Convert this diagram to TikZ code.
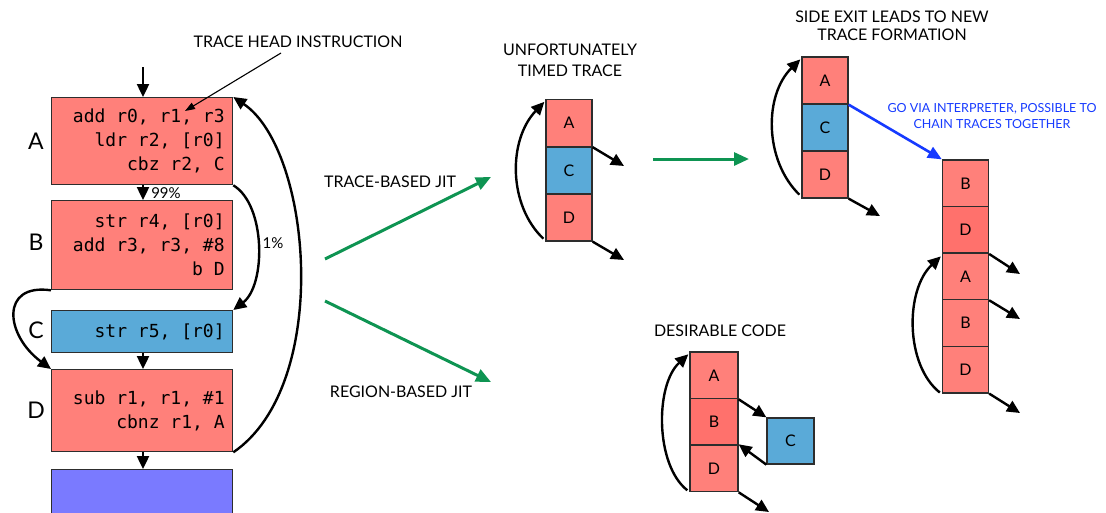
\documentclass[tikz,border=0pt]{standalone}
\usepackage{fontspec}
\setmainfont{Lato}
\newfontfamily\codefam{DejaVu Sans Mono}
\usetikzlibrary{arrows.meta}
\definecolor{blockred}{RGB}{255,128,122}
\definecolor{blockreddk}{RGB}{255,113,108}
\definecolor{blockcyan}{RGB}{90,170,216}
\definecolor{blockviolet}{RGB}{122,122,255}
\definecolor{jitgreen}{RGB}{14,148,82}
\definecolor{chainblue}{RGB}{22,58,255}
\definecolor{edgegray}{RGB}{45,45,45}
% one full character cell of the monospaced code font
\newcommand\codesp{\hspace{0.602em}}

\begin{document}
\begin{tikzpicture}[x=1pt,y=-1pt,
  codeblk/.style={draw=edgegray, line width=1.3pt, anchor=north west,
    minimum width=181pt, text width=165pt, inner xsep=8pt, inner ysep=0pt,
    align=right, font=\codefam\fontsize{18}{24}\selectfont},
  sidelbl/.style={font=\fontsize{23}{23}\selectfont, inner sep=0pt},
  tbox/.style={draw=edgegray, line width=1.3pt, minimum width=46pt,
    minimum height=47pt, inner sep=0pt, font=\fontsize{16}{16}\selectfont},
  caption/.style={font=\fontsize{16}{20}\selectfont, align=center, inner sep=0pt},
  smalllbl/.style={font=\fontsize{15}{15}\selectfont, inner sep=0pt},
  flow/.style={line width=2.4pt, -{Triangle[length=13pt,width=12pt]}},
  jit/.style={draw=jitgreen, line width=3pt, -{Triangle[length=15pt,width=13pt]}},
  chain/.style={draw=chainblue, line width=2.6pt, -{Triangle[length=14pt,width=12pt]}},
  pointer/.style={line width=1.1pt, -{Triangle[length=10pt,width=7pt]}}]

\clip (0,0) rectangle (1106,512);

% ---- control-flow graph ----
\node[codeblk, fill=blockred, minimum height=87pt] (A) at (51,97)
  {add\codesp r0,\codesp r1,\codesp r3\\ldr\codesp r2,\codesp [r0]\\cbz\codesp r2,\codesp C};
\node[codeblk, fill=blockred, minimum height=89pt] (B) at (51,200)
  {str\codesp r4,\codesp [r0]\\add\codesp r3,\codesp r3,\codesp \#8\\b\codesp D};
\node[codeblk, fill=blockcyan, minimum height=42pt] (C) at (51,310)
  {str\codesp r5,\codesp [r0]};
\node[codeblk, fill=blockred, minimum height=82pt] (D) at (51,369)
  {sub\codesp r1,\codesp r1,\codesp \#1\\cbnz\codesp r1,\codesp A};
\node[codeblk, fill=blockviolet, minimum height=50pt] (E) at (51,469) {};

\node[sidelbl] (lA) at (36,141) {A};
\node[sidelbl] (lB) at (36,242) {B};
\node[sidelbl] (lC) at (36,330) {C};
\node[sidelbl] (lD) at (36,410) {D};

\coordinate (entry) at (143,67);
\draw[flow] (entry) -- (A.north -| entry);
\draw[flow] (A.south -| entry) -- (B.north -| entry);
\draw[flow] (C.south -| entry) -- (D.north -| entry);
\draw[flow] (D.south -| entry) -- (E.north -| entry);
\node[smalllbl] (p99) at (166,193) {99\%};

\draw[flow] (A.south east) .. controls (266,205) and (266,285) .. (C.north east);
\node[smalllbl] (p1) at (273,243) {1\%};
\draw[flow] (B.south west) .. controls (0,283) and (5,335) .. (D.north west);
\draw[flow] (D.south east) .. controls (332,385) and (312,150) .. (A.north east);

\node[caption] (head) at (298,42) {TRACE HEAD INSTRUCTION};
\coordinate (headtip) at (185,111);
\draw[pointer] (281,53) -- (headtip);

% ---- the two compilation strategies ----
\node[caption] (tjit) at (390,182) {TRACE-BASED JIT};
\node[caption] (rjit) at (401,392) {REGION-BASED JIT};
\coordinate (t0) at (325,259);
\coordinate (t1) at (491,177);
\coordinate (r0) at (325,301);
\coordinate (r1) at (491,382);
\draw[jit] (t0) -- (t1);
\draw[jit] (r0) -- (r1);

% ---- first trace ----
\node[caption, font=\fontsize{16}{21}\selectfont] (uttl) at (570,60) {UNFORTUNATELY\\TIMED TRACE};
\node[tbox, fill=blockred] (tA) at (569,123) {A};
\node[tbox, fill=blockcyan] (tC) at (569,170.5) {C};
\node[tbox, fill=blockred] (tD) at (569,217.5) {D};
\coordinate (tx1) at (624,166);
\coordinate (tx2) at (624,260);
\draw[flow] (tA.south east) -- (tx1);
\draw[flow] (tD.south east) -- (tx2);
\draw[flow] ([shift={(-2,-3)}]tD.south west) .. controls (508,205) and (508,140) .. ([shift={(-1,3)}]tA.north west);

\coordinate (g0) at (653,159);
\coordinate (g1) at (749,159);
\draw[jit] (g0) -- (g1);

% ---- trace with side exit ----
\node[caption, font=\fontsize{16}{18}\selectfont] (sttl) at (892,26) {SIDE EXIT LEADS TO NEW\\TRACE FORMATION};
\node[tbox, fill=blockred] (sA) at (825,80.5) {A};
\node[tbox, fill=blockcyan] (sC) at (825,127.5) {C};
\node[tbox, fill=blockred] (sD) at (825,174.5) {D};
\coordinate (sx) at (880,216);
\draw[flow] (sD.south east) -- (sx);
\draw[flow] ([shift={(-2,-4)}]sD.south west) .. controls (764,160) and (764,95) .. ([shift={(-1,3)}]sA.north west);

\node[caption, text=chainblue, font=\fontsize{12.5}{16}\selectfont] (gov) at (992,116)
  {GO VIA INTERPRETER, POSSIBLE TO\\CHAIN TRACES TOGETHER};

% ---- chained trace ----
\node[tbox, fill=blockred, minimum height=46.6pt] (nB1) at (965.5,183.3) {B};
\node[tbox, fill=blockreddk, minimum height=46.6pt] (nD1) at (965.5,230) {D};
\node[tbox, fill=blockred, minimum height=46.6pt] (nA) at (965.5,276.3) {A};
\node[tbox, fill=blockred, minimum height=46.6pt] (nB2) at (965.5,323) {B};
\node[tbox, fill=blockred, minimum height=46.6pt] (nD2) at (965.5,369.6) {D};
\draw[chain] (sA.south east) -- (nB1.north west);
\coordinate (nx1) at (1020,274);
\coordinate (nx2) at (1020,319);
\coordinate (nx3) at (1020,413);
\draw[flow] (nD1.south east) -- (nx1);
\draw[flow] (nA.south east) -- (nx2);
\draw[flow] (nD2.south east) -- (nx3);
\draw[flow] ([shift={(-2,-1)}]nD2.south west) .. controls (905,365) and (905,290) .. ([shift={(-1,4)}]nA.north west);

% ---- region-based layout ----
\node[caption] (dttl) at (720,331) {DESIRABLE CODE};
\node[tbox, fill=blockred, minimum width=48pt, minimum height=46.7pt] (dA) at (714,375.3) {A};
\node[tbox, fill=blockreddk, minimum width=48pt, minimum height=46.7pt] (dB) at (714,421.7) {B};
\node[tbox, fill=blockred, minimum width=48pt, minimum height=46.7pt] (dD) at (714,468.3) {D};
\node[tbox, fill=blockcyan, minimum width=47pt, minimum height=46pt] (dC) at (790.5,441) {C};
\draw[flow] (dA.south east) -- (dC.north west);
\draw[flow] (dC.south west) -- (dD.north east);
\coordinate (dx) at (769,512);
\draw[flow] (dD.south east) -- (dx);
\draw[flow] ([shift={(-2,-2)}]dD.south west) .. controls (655,465) and (655,385) .. ([shift={(-1,3)}]dA.north west);

\end{tikzpicture}
\end{document}
